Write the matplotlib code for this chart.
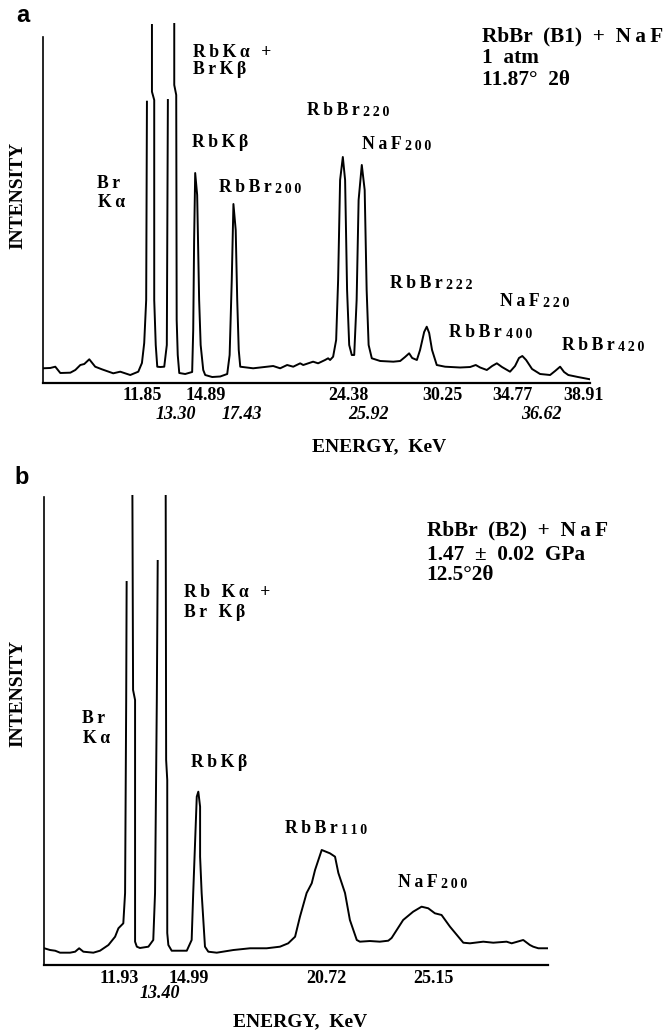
import numpy as np
import matplotlib
matplotlib.use("Agg")
import matplotlib.pyplot as plt

nan = np.nan

# ---------------- panel a : RbBr (B1) + NaF, 1 atm ----------------
energy_a = [4.83, 5.31, 5.64, 5.97, 6.63, 6.96, 7.29, 7.55, 7.88, 8.27, 8.71, 9.46,
            9.92, 10.58, 11.11, 11.35, 11.50, 11.63, 11.68, nan,
            12.01, 12.01, 12.16, 12.16, 12.26, 12.36, 12.56, 12.82, 12.99, 13.06, nan,
            13.48, 13.48, 13.61, 13.64, 13.71, 13.81, 14.20, 14.66, 14.73, 14.79, 14.86,
            14.99, 15.12, 15.22, 15.39, 15.52, 15.98, 16.51, 16.97, 17.13, 17.27, 17.38,
            17.53, 17.63, 17.73, 17.83, 18.68, 20.00, 20.46, 20.92, 21.32, 21.78, 21.98,
            22.63, 22.96, 23.42, 23.62, 23.75, 23.95, 24.15, 24.28, 24.41, 24.59, 24.74,
            24.87, 25.01, 25.18, 25.34, 25.50, 25.63, 25.84, 26.03, 26.16, 26.29, 26.50,
            27.05, 27.92, 28.37, 28.69, 28.96, 29.16, 29.47, 29.68, 29.95, 30.12, 30.28,
            30.47, 30.78, 31.33, 32.32, 32.98, 33.35, 33.64, 34.08, 34.43, 34.74, 35.08,
            35.61, 35.94, 36.20, 36.42, 36.67, 37.06, 37.59, 37.92, 38.25, 38.58, 38.91,
            39.17, 39.45, 40.09, 40.88]
intensity_a = [4.25, 4.34, 4.71, 2.89, 2.98, 3.76, 5.20, 5.49, 6.85, 4.71, 3.96, 2.80,
               3.27, 2.31, 3.27, 5.78, 11.56, 23.99, 81.30, nan,
               103.47, 84.19, 81.79, 23.99, 10.98, 4.71, 4.62, 4.71, 10.98, 81.79, nan,
               103.76, 86.13, 83.24, 18.21, 8.09, 2.89, 2.60, 3.18, 15.32, 41.33, 60.69,
               54.34, 23.99, 10.98, 3.76, 2.31, 1.73, 1.88, 2.60, 8.09, 29.77, 51.73,
               44.22, 23.99, 9.54, 4.71, 4.25, 4.91, 4.25, 5.20, 4.71, 5.69, 5.20,
               6.16, 5.69, 6.65, 7.14, 6.65, 7.60, 12.43, 29.77, 58.67, 65.32, 58.67,
               26.88, 10.98, 8.09, 8.09, 23.99, 52.89, 63.01, 55.78, 26.88, 10.98, 7.14,
               6.36, 6.16, 6.36, 7.51, 8.58, 7.23, 6.65, 9.54, 14.74, 16.27, 14.45,
               9.54, 5.20, 4.71, 4.48, 4.62, 5.20, 4.48, 3.76, 4.91, 5.69, 4.62,
               3.27, 4.91, 7.23, 7.80, 6.65, 4.05, 2.60, 2.46, 2.31, 3.47, 4.71,
               3.18, 2.31, 1.73, 1.07]
ticks_row1_a = [11.85, 14.89, 24.38, 30.25, 34.77, 38.91]
ticks_row2_a = [13.30, 17.43, 25.92, 36.62]

# ---------------- panel b : RbBr (B2) + NaF, 1.47 GPa ----------------
energy_b = [8.05, 8.31, 8.54, 8.76, 9.21, 9.44, 9.62, 9.81, 10.26, 10.56, 10.94, 11.24,
            11.39, 11.61, 11.69, 11.74, 11.76, nan,
            12.02, 12.05, 12.14, 12.14, 12.22, 12.36, 12.74, 12.96, 13.04, 13.12, 13.16, nan,
            13.52, 13.54, 13.59, 13.59, 13.64, 13.79, 14.47, 14.69, 14.76, 14.92, 14.99,
            15.07, 15.07, 15.14, 15.29, 15.44, 15.82, 16.57, 17.32, 18.07, 18.67, 19.04,
            19.35, 19.57, 19.87, 20.10, 20.25, 20.55, 20.92, 21.15, 21.30, 21.60, 21.82,
            22.13, 22.27, 22.72, 23.17, 23.55, 23.70, 24.22, 24.67, 25.05, 25.35, 25.65,
            25.95, 26.33, 26.93, 27.23, 27.83, 28.28, 28.88, 29.11, 29.63, 29.93, 30.08,
            30.31, 30.76]
intensity_b = [3.57, 3.20, 3.05, 2.63, 2.63, 2.84, 3.57, 2.84, 2.63, 3.05, 4.27, 6.04,
               7.84, 8.90, 15.37, 56.59, 81.78, nan,
               100.15, 58.72, 56.59, 4.98, 3.91, 3.63, 3.91, 5.34, 15.37, 56.59, 86.27, nan,
               100.15, 43.78, 39.50, 6.83, 4.27, 3.05, 3.05, 5.34, 15.37, 35.94, 37.01,
               33.80, 23.13, 15.37, 3.91, 2.84, 2.63, 3.20, 3.57, 3.57, 3.91, 4.63,
               6.04, 10.31, 15.37, 17.45, 20.29, 24.56, 23.85, 23.13, 19.65, 15.37, 9.61,
               5.34, 4.98, 5.12, 4.98, 5.19, 5.77, 9.61, 11.38, 12.45, 12.11, 11.04,
               10.68, 8.18, 4.76, 4.63, 4.98, 4.76, 4.98, 4.63, 5.34, 4.27, 3.91,
               3.57, 3.57]
ticks_row1_b = [11.93, 14.99, 20.72, 25.15]
ticks_row2_b = [13.40]

# ---------------- layout ----------------
W, H, DPI = 666, 1031, 100
SERIF = "Liberation Serif"
SANS = "Liberation Sans"
TS = "\u2009"

fig = plt.figure(figsize=(W / DPI, H / DPI), dpi=DPI)
fig.patch.set_facecolor("white")


def fx(x):
    return x / W


def fy(y):
    return 1 - y / H


def spaced(s):
    return TS.join(list(s))


def ftext(x, y, s, size=12.5, style="normal", family=SERIF, weight="bold", **kw):
    return fig.text(fx(x), fy(y), s, fontsize=size, fontweight=weight, fontstyle=style,
                    family=family, ha=kw.pop("ha", "left"), va=kw.pop("va", "baseline"), **kw)


def make_axes(left, right, top, bottom, xlim, ylim):
    ax = fig.add_axes([fx(left), fy(bottom), fx(right) - fx(left), fy(top) - fy(bottom)])
    ax.set_xlim(*xlim)
    ax.set_ylim(*ylim)
    ax.set_xticks([])
    ax.set_yticks([])
    for s in ("top", "right"):
        ax.spines[s].set_visible(False)
    ax.spines["left"].set_linewidth(1.2)
    ax.spines["bottom"].set_linewidth(1.6)
    ax.spines["left"].set_bounds(0, 100)
    ax.patch.set_alpha(0)
    return ax


def tick_labels(ax, values, offsets_px, drop_px, style):
    for v, dx in zip(values, offsets_px):
        ax.annotate(f"{v:.2f}", xy=(v, 0), xycoords="data",
                    xytext=(dx * 0.72, -drop_px * 0.72), textcoords="offset points",
                    ha="center", va="baseline", fontsize=13, fontweight="bold",
                    fontstyle=style, family=SERIF, annotation_clip=False)


def peak_label(ax, x, y, main, num=None, size_main=12.8, size_num=10):
    t = ftext(x, y, spaced(main), size=size_main)
    if num:
        ax.annotate(spaced(num), xy=(1, 0), xycoords=t, xytext=(2.5, 0),
                    textcoords="offset points", ha="left", va="bottom",
                    fontsize=size_num, fontweight="bold", family=SERIF)
    return t


INFO = 15.3
NAF = "N" + TS + "a" + TS + "F"

# ---- panel a ----
ax_a = make_axes(42.7, 590, 19.7, 383, (4.81, 40.88), (0, 105))
ax_a.plot(energy_a, intensity_a, color="black", lw=1.4, solid_joinstyle="round")
tick_labels(ax_a, ticks_row1_a, [-7, 10, 9, 14, 15, 23], 17, "normal")
tick_labels(ax_a, ticks_row2_a, [4, 8, 5, 16], 36, "italic")
ftext(379, 451.7, "ENERGY,  KeV", size=14, ha="center")
ftext(17.5, 195, "INTENSITY", size=14, rotation=90, ha="center", va="center")
ftext(16, 21.7, "a", size=17, family=SANS)

peak_label(ax_a, 193.3, 56.7, "RbKα +")
peak_label(ax_a, 193.3, 74, "BrKβ")
peak_label(ax_a, 96.7, 188.3, "Br")
peak_label(ax_a, 97.7, 206.7, "Kα")
peak_label(ax_a, 191.7, 146.7, "RbKβ")
peak_label(ax_a, 219, 191.7, "RbBr", "200")
peak_label(ax_a, 306.7, 115, "RbBr", "220")
peak_label(ax_a, 361.7, 149.3, "NaF", "200")
peak_label(ax_a, 390, 288.3, "RbBr", "222")
peak_label(ax_a, 500, 306, "NaF", "220")
peak_label(ax_a, 449.3, 336.7, "RbBr", "400")
peak_label(ax_a, 561.7, 350, "RbBr", "420")

ftext(481.7, 41.7, "RbBr  (B1)  +  " + NAF, size=INFO)
ftext(481.7, 63.3, "1  atm", size=INFO)
ftext(481.7, 85, "11.87°  2θ", size=INFO)

# ---- panel b ----
ax_b = make_axes(44.3, 548.3, 487.3, 965, (8.05, 30.76), (0, 102))
ax_b.plot(energy_b, intensity_b, color="black", lw=1.4, solid_joinstyle="round")
tick_labels(ax_b, ticks_row1_b, [-11, -10, 1, 10], 18, "normal")
tick_labels(ax_b, ticks_row2_b, [-3], 33, "italic")
ftext(300, 1026, "ENERGY,  KeV", size=14, ha="center")
ftext(18, 693.5, "INTENSITY", size=14, rotation=90, ha="center", va="center")
ftext(14, 484, "b", size=17, family=SANS)

peak_label(ax_b, 184.3, 596.7, "Rb Kα +")
peak_label(ax_b, 184.3, 616.7, "Br Kβ")
peak_label(ax_b, 81.7, 722.7, "Br")
peak_label(ax_b, 83, 743.3, "Kα")
peak_label(ax_b, 190.7, 766.7, "RbKβ")
peak_label(ax_b, 285, 833.3, "RbBr", "110")
peak_label(ax_b, 398.3, 886.7, "NaF", "200")

ftext(426.7, 535, "RbBr  (B2)  +  " + NAF, size=INFO)
ftext(426.7, 560, "1.47  ±  0.02  GPa", size=INFO)
ftext(426.7, 580, "12.5°2θ", size=INFO)

fig.savefig("out.png", dpi=DPI, facecolor="white")
